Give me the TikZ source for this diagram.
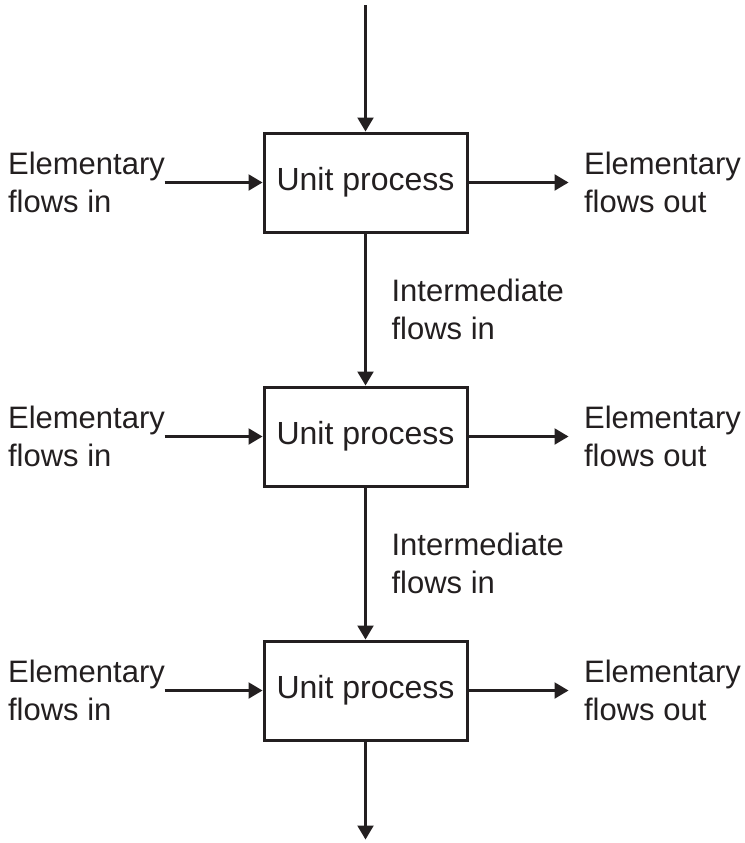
\documentclass[tikz,border=0pt]{standalone}
\usepackage{fontspec}
\setmainfont{Liberation Sans}
\usepackage{tikz}
\usetikzlibrary{positioning,arrows.meta}
\definecolor{ink}{HTML}{231F20}

\tikzset{
  unit/.style={draw=ink,text=ink,line width=3pt,minimum width=203pt,minimum height=99pt,inner sep=0pt,
    font=\fontsize{32}{38}\selectfont},
  flow/.style={align=left,inner sep=0pt,text=ink},
  inter/.style={flow,anchor=west,xshift=25pt}
}

\begin{document}
\begin{tikzpicture}[->,>={Triangle[length=14pt,width=16pt]},line width=2.2pt,draw=ink,node distance=254pt,on grid,
    font=\fontsize{31}{38}\selectfont]
		\useasboundingbox (0pt,0pt) rectangle (744pt,-843pt);
		\node[unit] (u1) at (365.5pt,-182.5pt) {Unit process};
		\node[unit] (u2) [below=of u1] {Unit process};
		\node[unit] (u3) [below=of u2] {Unit process};
		% labels left and right
		\node[flow] (in1) [left=279pt of u1] {Elementary\\flows in};
		\node[flow] (in2) [left=279pt of u2] {Elementary\\flows in};
		\node[flow] (in3) [left=279pt of u3] {Elementary\\flows in};
		\node[flow] (out1) [right=297pt of u1] {Elementary\\flows out};
		\node[flow] (out2) [right=297pt of u2] {Elementary\\flows out};
		\node[flow] (out3) [right=297pt of u3] {Elementary\\flows out};
		% free ends
		\coordinate[above=126pt of u1.north] (top);
		\coordinate[below=98pt of u3.south] (bot);
		\coordinate[left=98pt of u1.west] (a1);
		\coordinate[left=98pt of u2.west] (a2);
		\coordinate[left=98pt of u3.west] (a3);
		\coordinate[right=100pt of u1.east] (b1);
		\coordinate[right=100pt of u2.east] (b2);
		\coordinate[right=100pt of u3.east] (b3);
		\path 	(top) edge (u1)
		(u1) edge node[inter] {Intermediate\\flows in} (u2)
		(u2) edge node[inter] {Intermediate\\flows in} (u3)
		(u3) edge (bot)
		(a1) edge (u1)
		(a2) edge (u2)
		(a3) edge (u3)
		(u1) edge (b1)
		(u2) edge (b2)
		(u3) edge (b3)
		;
	\end{tikzpicture}
\end{document}
